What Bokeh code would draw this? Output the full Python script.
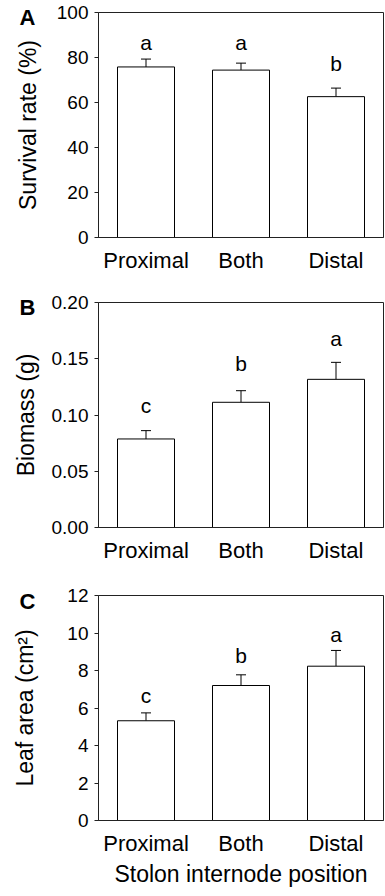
from bokeh.plotting import figure
from bokeh.models import (FactorRange, Range1d, ColumnDataSource, Whisker, TeeHead,
                          FixedTicker, NumeralTickFormatter)
from bokeh.layouts import column
from bokeh.embed import file_html
from bokeh.resources import INLINE
from bokeh.core.properties import value

FONT = "Liberation Sans"

positions = ["Proximal", "Both", "Distal"]

survival = [75.8, 74.4, 62.6]
survival_se = [3.5, 3.1, 3.8]
survival_letters = ["a", "a", "b"]
survival_letter_y = [81.5, 81.5, 72.3]
survival_ticks = [0, 20, 40, 60, 80, 100]

biomass = [0.0787, 0.1113, 0.1317]
biomass_se = [0.0074, 0.0103, 0.0151]
biomass_letters = ["c", "b", "a"]
biomass_letter_y = [0.0985, 0.1355, 0.1577]
biomass_ticks = [0.0, 0.05, 0.10, 0.15, 0.20]

leaf = [5.32, 7.20, 8.23]
leaf_se = [0.42, 0.57, 0.84]
leaf_letters = ["c", "b", "a"]
leaf_letter_y = [6.04, 8.21, 9.33]
leaf_ticks = [0, 2, 4, 6, 8, 10, 12]


def panel(tag, ylabel, vals, se, letters, letter_y, ticks, fmt, top, bottom,
          ylabel_standoff, tag_standoff, xlabel=None):
    src = ColumnDataSource(dict(
        x=positions, v=vals, top=[a + b for a, b in zip(vals, se)],
        letters=letters, ly=letter_y))
    p = figure(x_range=FactorRange(*positions), y_range=Range1d(0, ticks[-1]),
               frame_width=285, frame_height=225, output_backend="svg",
               toolbar_location=None,
               min_border_left=98, min_border_right=2, min_border_top=top,
               min_border_bottom=bottom)
    p.vbar(x="x", top="v", bottom=0, width=0.6, source=src, fill_color="white",
           line_color="black", line_width=1)
    p.add_layout(Whisker(source=src, base="x", lower="v", upper="top", lower_head=None,
                         upper_head=TeeHead(size=10, line_color="black", line_width=1),
                         line_color="black", line_width=1))
    p.text(x="x", y="ly", text="letters", source=src, text_align="center",
           text_baseline="bottom", text_font=value(FONT), text_font_size="21px",
           text_color="black")
    p.xgrid.visible = False
    p.ygrid.visible = False
    p.outline_line_color = "#222222"
    p.outline_line_width = 1
    p.background_fill_color = "white"
    p.border_fill_color = "white"

    # panel tag drawn as the figure's title, pulled down beside the frame
    p.title.text = tag
    p.title.align = "left"
    p.title.vertical_align = "bottom"
    p.title.offset = -79
    p.title.standoff = tag_standoff
    p.title.text_font = FONT
    p.title.text_font_size = "22px"
    p.title.text_font_style = "bold"
    p.title.text_color = "black"

    ya = p.yaxis[0]
    ya.ticker = FixedTicker(ticks=ticks)
    if fmt:
        ya.formatter = NumeralTickFormatter(format=fmt)
    ya.major_tick_out = 4
    ya.major_tick_in = 0
    ya.minor_tick_line_color = None
    ya.major_label_standoff = 6
    ya.major_label_text_font = FONT
    ya.major_label_text_font_size = "19px"
    ya.major_label_text_color = "black"
    ya.axis_line_color = "#222222"
    ya.major_tick_line_color = "#222222"
    ya.axis_label = ylabel
    ya.axis_label_text_font = FONT
    ya.axis_label_text_font_size = "23px"
    ya.axis_label_text_font_style = "normal"
    ya.axis_label_text_color = "black"
    ya.axis_label_standoff = ylabel_standoff

    xa = p.xaxis[0]
    xa.major_tick_line_color = None
    xa.minor_tick_line_color = None
    xa.axis_line_color = "#222222"
    xa.major_label_standoff = 4
    xa.major_label_text_font = FONT
    xa.major_label_text_font_size = "22px"
    xa.major_label_text_color = "black"
    if xlabel:
        xa.axis_label = xlabel
        xa.axis_label_text_font = FONT
        xa.axis_label_text_font_size = "23px"
        xa.axis_label_text_font_style = "normal"
        xa.axis_label_text_color = "black"
        xa.axis_label_standoff = 2
    return p


pA = panel("A", "Survival rate (%)", survival, survival_se, survival_letters,
           survival_letter_y, survival_ticks, None, 12, 53, 13, -35)
pB = panel("B", "Biomass (g)", biomass, biomass_se, biomass_letters,
           biomass_letter_y, biomass_ticks, "0.00", 12, 53, 10, -35)
pC = panel("C", "Leaf area (cm²)", leaf, leaf_se, leaf_letters,
           leaf_letter_y, leaf_ticks, None, 15, 76, 26, -37,
           xlabel="Stolon internode position")

layout = column(pA, pB, pC, spacing=0)
open("out.html", "w").write(file_html(layout, INLINE))
